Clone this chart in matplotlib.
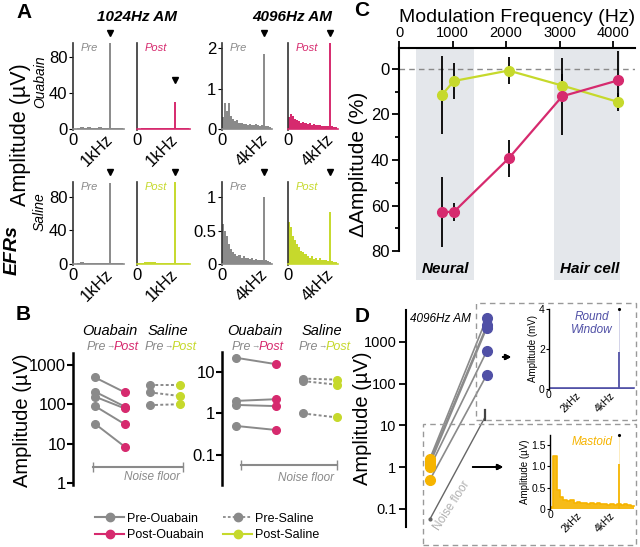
import matplotlib.pyplot as plt
from matplotlib.patches import Rectangle
from matplotlib.lines import Line2D

plt.rcParams['font.family'] = ['Liberation Sans', 'DejaVu Sans']
plt.rcParams['axes.linewidth'] = 1.2

GRAY = '#8a8a8a'
MAG = '#d62a6e'
LIME = '#c6d92c'
BLUE = '#5050a6'
ORANGE = '#f6b400'
SHADE = '#e4e7eb'

W, H = 640, 547

# ---------------- data ----------------
# A: EFR spectra (kHz, uV)
freq_1k = [0.0, 0.1, 0.2, 0.3, 0.4, 0.5, 0.6, 0.7, 0.8, 0.9, 1.0, 1.1, 1.2, 1.3, 1.4, 1.5]
pre_oua_1k = [0.5, 1.2, 1.8, 1.0, 2.0, 1.5, 1.0, 1.8, 1.2, 0.8, 1.5, 1.0, 0.8, 1.2, 0.6, 0.5]
post_oua_1k = [0.6, 1.0, 1.5, 1.2, 1.0, 1.4, 0.9, 1.2, 1.0, 0.8, 1.1, 0.9, 0.7, 0.8, 0.6, 0.5]
pre_sal_1k = [0.5, 1.5, 2.0, 1.2, 1.8, 1.0, 1.4, 1.0, 0.8, 1.2, 1.5, 1.0, 0.8, 0.9, 0.6, 0.5]
post_sal_1k = [0.8, 1.5, 2.2, 2.5, 2.0, 1.6, 1.2, 1.5, 1.0, 0.9, 1.3, 1.0, 0.8, 0.9, 0.7, 0.5]

freq_4k = [0.0, 0.2, 0.4, 0.6, 0.8, 1.0, 1.2, 1.4, 1.6, 1.8, 2.0, 2.2, 2.4, 2.6, 2.8,
           3.0, 3.2, 3.4, 3.6, 3.8, 4.0, 4.2, 4.4, 4.6, 4.8]
pre_oua_4k = [0.30, 0.65, 0.45, 0.65, 0.32, 0.25, 0.20, 0.22, 0.16, 0.15, 0.12, 0.13, 0.10,
              0.12, 0.10, 0.10, 0.13, 0.10, 0.08, 0.10, 0.08, 0.08, 0.07, 0.06, 0.05]
post_oua_4k = [0.30, 0.38, 0.32, 0.26, 0.22, 0.20, 0.15, 0.18, 0.14, 0.12, 0.15, 0.10, 0.12,
               0.10, 0.10, 0.10, 0.08, 0.09, 0.08, 0.08, 0.07, 0.07, 0.06, 0.05, 0.05]
pre_sal_4k = [0.60, 0.50, 0.42, 0.30, 0.22, 0.18, 0.15, 0.13, 0.14, 0.10, 0.12, 0.09, 0.10,
              0.08, 0.09, 0.07, 0.08, 0.06, 0.07, 0.06, 0.05, 0.06, 0.05, 0.04, 0.04]
post_sal_4k = [0.62, 0.55, 0.42, 0.36, 0.30, 0.25, 0.20, 0.18, 0.15, 0.12, 0.10, 0.12, 0.08,
               0.09, 0.07, 0.10, 0.06, 0.07, 0.06, 0.05, 0.05, 0.05, 0.04, 0.04, 0.04]

# peak amplitude at the modulation frequency
peak_1k = [97, 30, 96, 100]      # pre-oua, post-oua, pre-sal, post-sal
peak_4k = [1.85, 2.3, 1.0, 0.78]

# B: EFR amplitude pre/post (uV)
oua_pre_1k = [480, 209, 156, 90, 32]
oua_post_1k = [200, 87, 78, 31, 8.3]
sal_pre_1k = [309, 200, 95]
sal_post_1k = [309, 162, 100]
noise_1k = 2.6

oua_pre_4k = [21.8, 2.0, 1.6, 0.5]
oua_post_4k = [15.3, 2.2, 1.5, 0.4]
sal_pre_4k = [6.9, 6.0, 1.0]
sal_post_4k = [6.5, 4.9, 0.8]
noise_4k = 0.057

# C: change in amplitude vs modulation frequency
mod_freq = [800, 1024, 2048, 3050, 4096]
oua_delta = [62.8, 62.8, 39.3, 12.0, 5.0]
oua_err = [15.5, 4.0, 8.0, 17.0, 12.7]
sal_delta = [11.5, 5.3, 0.7, 7.3, 14.5]
sal_err = [17.0, 8.0, 5.8, 5.0, 4.0]
neural_band = (315, 1407)
haircell_band = (2890, 4130)

# D: mastoid vs round window, 4096 Hz AM (uV)
mastoid_amp = [1.6, 1.4, 1.2, 1.0, 0.5]
rw_amp = [3800, 2500, 2200, 610, 165]
noise_mastoid = 0.057
noise_rw = 16

insert_freq = [0.0, 0.2, 0.4, 0.6, 0.8, 1.0, 1.2, 1.4, 1.6, 1.8, 2.0, 2.2, 2.4, 2.6, 2.8,
               3.0, 3.2, 3.4, 3.6, 3.8, 4.0, 4.2, 4.4, 4.6, 4.8, 5.0]
rw_spec = [0.05, 0.06, 0.05, 0.04, 0.05, 0.05, 0.04, 0.05, 0.05, 0.04, 0.05, 0.04, 0.05,
           0.04, 0.05, 0.04, 0.04, 0.05, 0.04, 0.04, 0.05, 0.04, 0.04, 0.04, 0.03, 0.03]
mastoid_spec = [0.05, 1.25, 0.45, 0.28, 0.22, 0.18, 0.20, 0.15, 0.17, 0.14, 0.15, 0.12, 0.14,
                0.12, 0.13, 0.11, 0.12, 0.10, 0.12, 0.10, 0.11, 0.10, 0.12, 0.10, 0.08, 0.06]
rw_peak = 1.85     # mV
mastoid_peak = 1.05  # uV


def box(l, t, r, b):
    return [l / W, 1 - b / H, (r - l) / W, (b - t) / H]


def fx(x):
    return x / W


def fy(y):
    return 1 - y / H


fig = plt.figure(figsize=(6.4, 5.47), dpi=100)


# ---------------- A ----------------
def spectrum(rect, freq, amp, f0, peak, color, tag, ylim, yticks, ylabels, xmax, khz, tri, first):
    ax = fig.add_axes(rect)
    ax.fill_between(freq, amp, step='post', color=color, lw=0)
    ax.vlines(f0, 0, peak, color=color, lw=1.4)
    ax.plot([f0], [tri], marker='v', color='k', ms=4, clip_on=False)
    ax.set_xlim(0, xmax)
    ax.set_ylim(ylim)
    for s in ['top', 'right']:
        ax.spines[s].set_visible(False)
    ax.spines['bottom'].set_color(color)
    ax.spines['bottom'].set_position(('data', 0))
    ax.spines['left'].set_color('#333333')
    ax.set_xticks([0, khz])
    ax.set_xticklabels(['0', ''], fontsize=12)
    ax.annotate('%gkHz' % khz, xy=(khz, 0), xycoords=ax.get_xaxis_transform(),
                xytext=(5, -1), textcoords='offset points', rotation=45,
                ha='right', va='top', fontsize=12)
    ax.tick_params(axis='x', length=0, pad=3)
    if first:
        ax.set_yticks(yticks)
        ax.set_yticklabels(ylabels, fontsize=12)
        ax.tick_params(axis='y', length=3, pad=1)
    else:
        ax.set_yticks([])
    ax.text(0.15, 1.0, tag, transform=ax.transAxes, va='top', ha='left',
            style='italic', color=color if tag == 'Post' else GRAY, fontsize=8)
    return ax


row1 = (43, 130)
row2 = (182, 265)
cols = [(73, 124), (137, 190), (222, 272), (288, 338)]

spectrum(box(cols[0][0], row1[0], cols[0][1], row1[1]), freq_1k, pre_oua_1k, 1.024, peak_1k[0],
         GRAY, 'Pre', (-1, 95), [0, 40, 80], ['0', '40', '80'], 1.43, 1, 106, True)
spectrum(box(cols[1][0], row1[0], cols[1][1], row1[1]), freq_1k, post_oua_1k, 1.024, peak_1k[1],
         MAG, 'Post', (-1, 95), [0, 40, 80], ['0', '40', '80'], 1.43, 1, 54, False)
spectrum(box(cols[2][0], row1[0], cols[2][1], row1[1]), freq_4k, pre_oua_4k, 4.096, peak_4k[0],
         GRAY, 'Pre', (-0.02, 2.12), [0, 1, 2], ['0', '1', '2'], 4.85, 4, 2.37, True)
spectrum(box(cols[3][0], row1[0], cols[3][1], row1[1]), freq_4k, post_oua_4k, 4.096, peak_4k[1],
         MAG, 'Post', (-0.02, 2.12), [0, 1, 2], ['0', '1', '2'], 4.85, 4, 2.37, False)
spectrum(box(cols[0][0], row2[0], cols[0][1], row2[1]), freq_1k, pre_sal_1k, 1.024, peak_1k[2],
         GRAY, 'Pre', (-1, 97.6), [0, 40, 80], ['0', '40', '80'], 1.43, 1, 109, True)
spectrum(box(cols[1][0], row2[0], cols[1][1], row2[1]), freq_1k, post_sal_1k, 1.024, peak_1k[3],
         LIME, 'Post', (-1, 97.6), [0, 40, 80], ['0', '40', '80'], 1.43, 1, 109, False)
spectrum(box(cols[2][0], row2[0], cols[2][1], row2[1]), freq_4k, pre_sal_4k, 4.096, peak_4k[2],
         GRAY, 'Pre', (-0.01, 1.22), [0, 0.5, 1], ['0', '0.5', '1'], 4.85, 4, 1.37, True)
spectrum(box(cols[3][0], row2[0], cols[3][1], row2[1]), freq_4k, post_sal_4k, 4.096, peak_4k[3],
         LIME, 'Post', (-0.01, 1.22), [0, 0.5, 1], ['0', '0.5', '1'], 4.85, 4, 1.37, False)

fig.text(fx(137), fy(17), '1024Hz AM', ha='center', va='center', fontsize=11,
         weight='bold', style='italic')
fig.text(fx(292), fy(17), '4096Hz AM', ha='center', va='center', fontsize=11,
         weight='bold', style='italic')
fig.text(fx(21), fy(135), 'Amplitude (µV)', rotation=90, ha='center', va='center', fontsize=15.5)
fig.text(fx(40), fy(82), 'Ouabain', rotation=90, ha='center', va='center', fontsize=10,
         style='italic')
fig.text(fx(40), fy(212), 'Saline', rotation=90, ha='center', va='center', fontsize=10,
         style='italic')
fig.text(fx(12), fy(250), 'EFRs', rotation=90, ha='center', va='center', fontsize=14,
         weight='bold', style='italic')


# ---------------- B ----------------
def pairs(ax, xs, pre, post, color, dashed):
    for a, b in zip(pre, post):
        ax.plot(xs, [a, b], color=GRAY, lw=1.4,
                ls=(0, (1.5, 1.2)) if dashed else '-', zorder=2)
    ax.plot([xs[0]] * len(pre), pre, 'o', color=GRAY, ms=5.5, zorder=3)
    ax.plot([xs[1]] * len(post), post, 'o', color=color, ms=5.5, zorder=3)


def b_axes(rect, ylim, yticks, ylabels, xlim):
    ax = fig.add_axes(rect)
    ax.set_yscale('log')
    ax.set_ylim(ylim)
    ax.set_xlim(xlim)
    ax.set_yticks(yticks)
    ax.set_yticklabels(ylabels, fontsize=12)
    ax.minorticks_off()
    ax.set_xticks([])
    for s in ['top', 'right', 'bottom']:
        ax.spines[s].set_visible(False)
    ax.spines['left'].set_linewidth(1.8)
    ax.tick_params(axis='y', length=4, width=1.5, pad=1)
    return ax


axb1 = b_axes(box(73, 353, 190, 485), (0.89, 2000), [1, 10, 100, 1000],
              ['1', '10', '100', '1000'], (-0.73, 3.17))
pairs(axb1, [0, 1], oua_pre_1k, oua_post_1k, MAG, False)
pairs(axb1, [1.83, 2.83], sal_pre_1k, sal_post_1k, LIME, True)
axb1.plot([-0.07, 2.93], [noise_1k, noise_1k], color=GRAY, lw=1.5, marker='|', ms=7)
axb1.text(1.9, noise_1k * 0.78, 'Noise floor', ha='center', va='top', color=GRAY,
          style='italic', fontsize=8.5)
fig.text(fx(23), fy(420), 'Amplitude (µV)', rotation=90, ha='center', va='center',
         fontsize=14.5)

axb2 = b_axes(box(222, 352, 345, 485), (0.019, 30), [0.1, 1, 10], ['0.1', '1', '10'],
              (-0.35, 2.725))
pairs(axb2, [0, 1], oua_pre_4k, oua_post_4k, MAG, False)
pairs(axb2, [1.675, 2.525], sal_pre_4k, sal_post_4k, LIME, True)
axb2.plot([0.125, 2.525], [noise_4k, noise_4k], color=GRAY, lw=1.5, marker='|', ms=7)
axb2.text(1.75, noise_4k * 0.7, 'Noise floor', ha='center', va='top', color=GRAY,
          style='italic', fontsize=8.5)


def header(xc, name, post_color):
    fig.text(fx(xc), fy(331), name, ha='center', va='center', fontsize=10.5, style='italic')
    fig.text(fx(xc - 4), fy(347), 'Pre', ha='right', va='center', fontsize=9,
             style='italic', color=GRAY)
    fig.text(fx(xc), fy(347), '→', ha='center', va='center', fontsize=6, color=GRAY)
    fig.text(fx(xc + 4), fy(347), 'Post', ha='left', va='center', fontsize=9,
             style='italic', color=post_color)


header(110, 'Ouabain', MAG)
header(168, 'Saline', LIME)
header(255, 'Ouabain', MAG)
header(322, 'Saline', LIME)

handles = [Line2D([], [], color=GRAY, marker='o', ms=6, lw=1.5),
           Line2D([], [], color=MAG, marker='o', ms=6, lw=1.5),
           Line2D([], [], color=GRAY, marker='o', ms=6, lw=1.3, ls=(0, (1.5, 1.2))),
           Line2D([], [], color=LIME, marker='o', ms=6, lw=1.5)]
fig.legend(handles, ['Pre-Ouabain', 'Post-Ouabain', 'Pre-Saline', 'Post-Saline'],
           ncol=2, loc='center', bbox_to_anchor=(fx(207), fy(527)), frameon=False,
           fontsize=9, handlelength=2.3, columnspacing=1.6, handletextpad=0.2,
           labelspacing=0.35)

# ---------------- C ----------------
axc = fig.add_axes(box(399, 48, 635, 280))
axc.axvspan(*neural_band, color=SHADE, lw=0, zorder=0)
axc.axvspan(*haircell_band, color=SHADE, lw=0, zorder=0)
axc.axhline(0, color=GRAY, ls='--', lw=1, dashes=(4, 3), zorder=1)
axc.errorbar(mod_freq, oua_delta, yerr=oua_err, fmt='none', ecolor='k', elinewidth=1.3, zorder=2)
axc.errorbar(mod_freq, sal_delta, yerr=sal_err, fmt='none', ecolor='k', elinewidth=1.3, zorder=2)
axc.plot(mod_freq, sal_delta, '-o', color=LIME, lw=1.6, ms=7, zorder=3)
axc.plot(mod_freq, oua_delta, '-o', color=MAG, lw=1.6, ms=7, zorder=4)
axc.set_xlim(0, 4410)
axc.set_ylim(92.7, -9.2)
axc.xaxis.tick_top()
axc.xaxis.set_label_position('top')
axc.set_xticks([0, 1000, 2000, 3000, 4000])
axc.set_xticklabels(['0', '1000', '2000', '3000', '4000'], fontsize=10.5)
axc.set_yticks([0, 20, 40, 60, 80])
axc.set_yticklabels(['0', '20', '40', '60', '80'], fontsize=12)
axc.set_yticks([10, 30, 50, 70], minor=True)
axc.tick_params(axis='y', which='major', length=5, width=1.3, pad=2)
axc.tick_params(axis='y', which='minor', length=3, width=1.3)
axc.tick_params(axis='x', length=5, width=1.3, pad=1)
axc.spines['bottom'].set_visible(False)
axc.spines['right'].set_visible(False)
axc.spines['left'].set_bounds(80, -9.2)
axc.spines['left'].set_linewidth(1.5)
axc.spines['top'].set_linewidth(1.5)
axc.set_xlabel('Modulation Frequency (Hz)', fontsize=14, labelpad=3)
axc.set_ylabel('ΔAmplitude (%)', fontsize=15, labelpad=2)
axc.text(sum(neural_band) / 2, 88, 'Neural', ha='center', va='center', fontsize=11,
         weight='bold', style='italic')
axc.text(sum(haircell_band) / 2 + 60, 88, 'Hair cell', ha='center', va='center', fontsize=11,
         weight='bold', style='italic')

# ---------------- D ----------------
axd = fig.add_axes(box(406, 310, 500, 527))
axd.set_yscale('log')
axd.set_ylim(0.037, 5800)
axd.set_xlim(-0.42, 1.23)
for a, b in zip(mastoid_amp, rw_amp):
    axd.plot([0, 1], [a, b], color=GRAY, lw=1.2, zorder=2)
axd.plot([0] * len(mastoid_amp), mastoid_amp, 'o', color=ORANGE, ms=7, zorder=3)
axd.plot([1] * len(rw_amp), rw_amp, 'o', color=BLUE, ms=7, zorder=3)
axd.plot([0, 0.97], [noise_mastoid, noise_rw], color='#666666', lw=1, zorder=2)
axd.plot([0], [noise_mastoid], 'o', color='#666666', ms=2)
axd.plot([0.97, 0.97], [noise_rw * 0.85, noise_rw * 1.5], color='#444444', lw=1.6)
axd.text(0.38, 0.12, 'Noise floor', rotation=57, ha='center', va='center', color='#b0b0b0',
         fontsize=8.5)
axd.set_yticks([0.1, 1, 10, 100, 1000])
axd.set_yticklabels(['0.1', '1', '10', '100', '1000'], fontsize=10.5)
axd.minorticks_off()
axd.set_xticks([])
for s in ['top', 'right', 'bottom']:
    axd.spines[s].set_visible(False)
axd.spines['left'].set_linewidth(1.5)
axd.tick_params(axis='y', length=5, width=1.3, pad=2)
fig.text(fx(363), fy(418), 'Amplitude (µV)', rotation=90, ha='center', va='center',
         fontsize=14.5)
fig.text(fx(440), fy(319), '4096Hz AM', ha='center', va='center', fontsize=8.5, style='italic')

for l, t, r, b in [(476, 303, 636, 420), (423, 424, 636, 545)]:
    fig.patches.append(Rectangle((fx(l), fy(b)), (r - l) / W, (b - t) / H,
                                 transform=fig.transFigure, fill=False, ec='#999999',
                                 lw=1, ls=(0, (4, 3))))

for x0, x1, y in [(500, 514, 357), (470, 506, 467)]:
    fig.add_artist(plt.annotate('', xy=(fx(x1), fy(y)), xytext=(fx(x0), fy(y)),
                                xycoords='figure fraction',
                                arrowprops=dict(arrowstyle='-|>', color='k', lw=1.3,
                                                mutation_scale=8)))


def inset(rect, spec, peak, color, ylim, yticks, ylabels, ylabel, name, name_y):
    ax = fig.add_axes(rect)
    ax.fill_between(insert_freq, spec, step='post', color=color, lw=0, alpha=0.9)
    ax.step(insert_freq, spec, where='post', color=color, lw=1.2)
    ax.vlines(4.096, 0, peak, color=color, lw=1.3)
    ax.vlines(4.096, peak, ylim[1], color=color, lw=0.5, alpha=0.35)
    ax.plot([4.096], [ylim[1]], '.', color='k', ms=2.5, clip_on=False)
    ax.set_xlim(0, 5.06)
    ax.set_ylim(ylim)
    ax.set_yticks(yticks)
    ax.set_yticklabels(ylabels, fontsize=7.5)
    ax.set_xticks([0, 2, 4])
    ax.set_xticklabels(['0', '2kHz', '4kHz'], fontsize=7.5)
    for lab in ax.get_xticklabels()[1:]:
        lab.set_rotation(45)
        lab.set_ha('right')
    for s in ['top', 'right', 'bottom']:
        ax.spines[s].set_visible(False)
    ax.spines['left'].set_linewidth(1)
    ax.tick_params(length=2, pad=1)
    ax.tick_params(axis='x', length=0)
    ax.set_ylabel(ylabel, fontsize=7, labelpad=1)
    ax.text(0.5, name_y, name, transform=ax.transAxes, ha='center', va='top', color=color,
            style='italic', fontsize=8.5)


inset(box(549, 309, 635, 389), rw_spec, rw_peak, BLUE, (0, 4), [0, 2, 4], ['0', '2', '4'],
      'Amplitude (mV)', 'Round\nWindow', 0.98)
inset(box(550, 435, 635, 509), mastoid_spec, mastoid_peak, ORANGE, (0, 1.73),
      [0, 0.5, 1.0, 1.5], ['0', '0.5', '1.0', '1.5'], 'Amplitude (µV)', 'Mastoid', 0.98)

# panel letters
for letter, x, y in [('A', 24, 12), ('B', 23, 315), ('C', 362, 10), ('D', 362, 317)]:
    fig.text(fx(x), fy(y), letter, ha='center', va='center', fontsize=15, weight='bold')

fig.savefig('out.png', dpi=100)
